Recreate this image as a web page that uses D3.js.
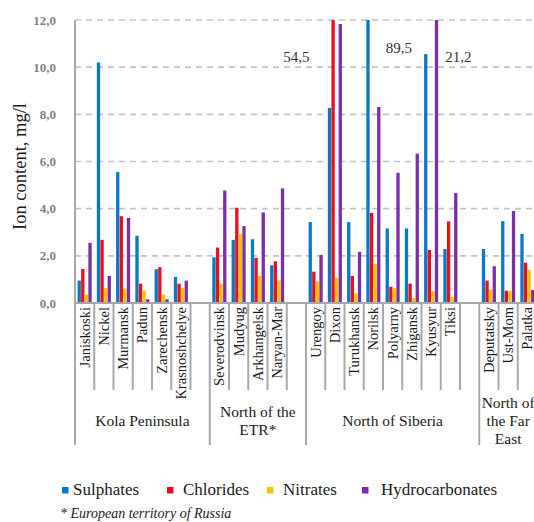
<!DOCTYPE html>
<html>
<head>
<meta charset="utf-8">
<script src="https://cdn.jsdelivr.net/npm/d3@7/dist/d3.min.js"></script>
<style>
  html, body { margin: 0; padding: 0; background: #fff; }
  svg { display: block; }
  text { font-family: "Liberation Serif", "Times New Roman", serif; }
</style>
</head>
<body>
<svg id="chart" width="534" height="522"></svg>
<script>
// ---- data ----
const stations = ["Janiskoski","Nickel","Murmansk","Padun","Zarechensk","Krasnoshchelye","",
  "Severodvinsk","Mudyug","Arkhangelsk","Naryan-Mar","",
  "Urengoy","Dixon","Turukhansk","Norilsk","Polyarny","Zhigansk","Kyusyur","Tiksi","",
  "Deputatsky","Ust-Mom","Palatka"];
const groupNames = ["Kola Peninsula", "North of the|ETR*", "North of Siberia", "North of|the Far|East"];
const groupSizes = [7, 5, 9, 3];
const seriesNames = ["Sulphates", "Chlorides", "Nitrates", "Hydrocarbonates"];
const seriesColors = ["#0a78c8", "#e8101a", "#ffc000", "#7a2fa8"];
const sulphates = [0.95,10.2,5.55,2.85,1.43,1.1,null, 1.94,2.68,2.7,1.6,null, 3.43,8.27,3.43,89.5,3.16,3.16,10.55,2.29,null, 2.29,3.47,2.93];
const chlorides = [1.44,2.68,3.68,0.82,1.52,0.82,null, 2.35,4.04,1.91,1.77,null, 1.33,54.5,1.15,3.82,0.69,0.82,2.25,3.46,null, 0.95,0.52,1.71];
const nitrates  = [0.35,0.64,0.61,0.52,0.35,0.64,null, 0.81,2.93,1.15,0.95,null, 0.92,1.06,0.41,1.66,0.64,0.2,0.5,0.24,null, 0.57,0.52,1.4];
const hydrocarbonates = [2.55,1.15,3.61,0.16,0.16,0.95,null, 4.77,3.26,3.84,4.86,null, 2.04,11.83,2.17,8.31,5.52,6.33,21.2,4.66,null, 1.56,3.9,0.55];
const yTicks = [0, 2, 4, 6, 8, 10, 12];
const yTitle = "Ion content, mg/l";
const footnote = "* European territory of Russia";

const seriesValues = [sulphates, chlorides, nitrates, hydrocarbonates];

// ---- layout ----
const svg = d3.select("#chart");
const mLeft = 75, mRight = 537, mTop = 20, mBottom = 303;
const x0 = d3.scaleBand().domain(d3.range(stations.length)).range([mLeft, mRight]).padding(0);
const x1 = d3.scaleBand().domain(d3.range(seriesNames.length)).range([0, x0.bandwidth()])
  .paddingInner(0.08).paddingOuter(0.72);
const y = d3.scaleLinear().domain([0, 12]).range([mBottom, mTop]).clamp(true);
const fmt = v => d3.format(".1f")(v).replace(".", ",");

// gridlines
svg.append("g").selectAll("line").data(yTicks.filter(t => t > 0)).join("line")
  .attr("x1", mLeft).attr("x2", 534)
  .attr("y1", d => y(d)).attr("y2", d => y(d))
  .attr("stroke", "#c4c4c4").attr("stroke-width", 1.6).attr("stroke-dasharray", "6,5");

// y tick labels
svg.append("g").selectAll("text").data(yTicks).join("text")
  .attr("x", 56).attr("y", d => y(d)).attr("dy", "0.35em")
  .attr("text-anchor", "end").attr("font-size", 13).attr("font-weight", "bold")
  .attr("fill", "#7f7f7f").text(fmt);

// y title
svg.append("text")
  .attr("transform", `translate(26,${(mTop + mBottom) / 2 + 5}) rotate(-90)`)
  .attr("text-anchor", "middle").attr("font-size", 18.5).attr("fill", "#1a1a1a")
  .text(yTitle);

// bars
const barData = [];
stations.forEach((s, i) => {
  seriesValues.forEach((arr, k) => {
    if (arr[i] != null) barData.push({ i, k, v: arr[i] });
  });
});
svg.append("g").selectAll("rect").data(barData).join("rect")
  .attr("x", d => x0(d.i) + x1(d.k))
  .attr("width", x1.bandwidth())
  .attr("y", d => y(d.v))
  .attr("height", d => y(0) - y(d.v))
  .attr("fill", d => seriesColors[d.k]);

// outlier annotations (values beyond the axis maximum)
const outlierLayout = { 13: { dx: -22, anchor: "end", dy: 42 }, 15: { dx: 16, anchor: "start", dy: 33 }, 18: { dx: 7, anchor: "start", dy: 42 } };
svg.append("g").selectAll("text").data(barData.filter(d => d.v > 12)).join("text")
  .attr("x", d => x0(d.i) + x1(d.k) + (outlierLayout[d.i].dx >= 0 ? x1.bandwidth() : 0) + outlierLayout[d.i].dx)
  .attr("y", d => y(12) + outlierLayout[d.i].dy)
  .attr("text-anchor", d => outlierLayout[d.i].anchor)
  .attr("font-size", 15).attr("fill", "#333")
  .text(d => fmt(d.v));

// axes lines
const axisColor = "#a8a8a8";
svg.append("line").attr("x1", mLeft).attr("x2", mLeft).attr("y1", mTop).attr("y2", 445)
  .attr("stroke", axisColor).attr("stroke-width", 2);
svg.append("line").attr("x1", mLeft).attr("x2", 534).attr("y1", mBottom).attr("y2", mBottom)
  .attr("stroke", axisColor).attr("stroke-width", 2);

// category separators
const groupStarts = [];
let acc = 0;
groupSizes.forEach(n => { groupStarts.push(acc); acc += n; });
const sepIdx = d3.range(1, stations.length);
svg.append("g").selectAll("line").data(sepIdx).join("line")
  .attr("x1", d => x0(d)).attr("x2", d => x0(d))
  .attr("y1", mBottom).attr("y2", d => groupStarts.includes(d) ? 445 : 390)
  .attr("stroke", axisColor).attr("stroke-width", 2);

// station labels
svg.append("g").selectAll("text").data(stations.map((s, i) => ({ s, i })).filter(d => d.s)).join("text")
  .attr("transform", d => `translate(${x0(d.i) + x0.bandwidth() / 2 + 5},${mBottom + 4}) rotate(-90)`)
  .attr("text-anchor", "end").attr("font-size", 14.5).attr("fill", "#1a1a1a")
  .text(d => d.s);

// group labels
groupNames.forEach((g, gi) => {
  const start = x0(groupStarts[gi]);
  const end = gi + 1 < groupStarts.length ? x0(groupStarts[gi + 1]) : mRight;
  const lines = g.split("|");
  const lh = 18;
  const y0 = 426 - (lines.length - 1) * lh / 2;
  const t = svg.append("text").attr("text-anchor", "middle").attr("font-size", 15.5).attr("fill", "#1a1a1a");
  lines.forEach((ln, li) => {
    t.append("tspan").attr("x", (start + end) / 2).attr("y", y0 + li * lh).text(ln);
  });
});

// legend
const legendX = [62, 167, 267, 362];
const legendTextX = [73, 183, 283, 381];
const lg = svg.append("g");
seriesNames.forEach((name, k) => {
  lg.append("rect").attr("x", legendX[k]).attr("y", 487).attr("width", 6.5).attr("height", 6.5)
    .attr("fill", seriesColors[k]);
  lg.append("text").attr("x", legendTextX[k]).attr("y", 495).attr("font-size", 17)
    .attr("fill", "#1a1a1a").text(name);
});

// footnote
svg.append("text").attr("x", 60).attr("y", 518).attr("font-size", 14).attr("font-style", "italic")
  .attr("fill", "#1a1a1a").text(footnote);
</script>
</body>
</html>
